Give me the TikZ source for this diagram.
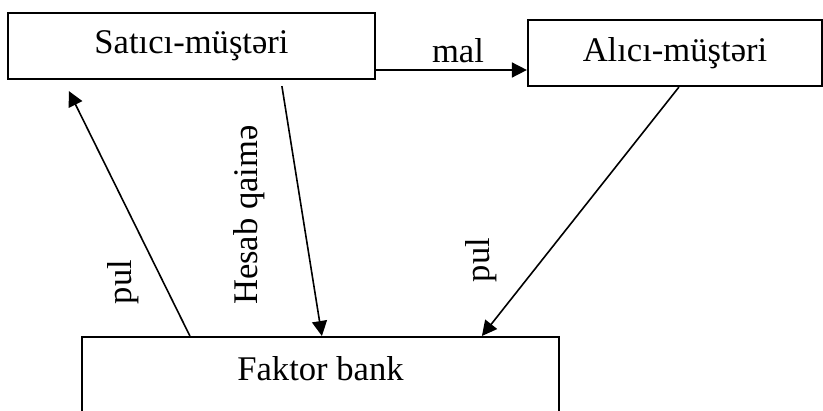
\documentclass[tikz,border=0pt]{standalone}
\usepackage{fontspec}
\setmainfont{Liberation Serif}
\usetikzlibrary{arrows.meta}

\begin{document}
\begin{tikzpicture}[x=0.5pt,y=-0.5pt,line join=miter,
  every node/.style={font=\fontsize{17.3}{20}\selectfont},
  box/.style={draw,line width=1.1pt,inner sep=0pt,minimum height=33pt},
  arr/.style={line width=0.8pt,-{Triangle[length=7.5pt,width=7.5pt]}},
  lbl/.style={inner sep=0pt}]
  \clip (0,0) rectangle (823,411);
  % boxes
  \node[box,minimum width=183.5pt] (satici) at (191.5,46) {Satıcı-müştəri};
  \node[box,minimum width=147pt] (alici) at (675,53) {Alıcı-müştəri};
  \node[box,anchor=north,minimum width=238.5pt,text height=21.5pt,text depth=40pt] (bank) at (320.5,336) {Faktor bank};
  % arrows
  \coordinate (malrow) at (0,70);
  \draw[arr] (satici.east |- malrow) -- (alici.west |- malrow);
  \draw[arr] ([xshift=137.5pt,yshift=-3pt]satici.south west) -- ([xshift=120.5pt]bank.north west);
  \draw[arr] ([xshift=54.5pt]bank.north west) -- ([xshift=31pt,yshift=-5.5pt]satici.south west);
  \draw[arr] ([xshift=76pt]alici.south west) -- ([xshift=200.5pt]bank.north west);
  % labels
  \node[lbl] (mal) at (458,51) {mal};
  \node[lbl,rotate=90] (hesab) at (249,215) {Hesab qaimə};
  \node[lbl,rotate=90] (pulL) at (123,282) {pul};
  \node[lbl,rotate=90] (pulR) at (481,260) {pul};
\end{tikzpicture}
\end{document}
